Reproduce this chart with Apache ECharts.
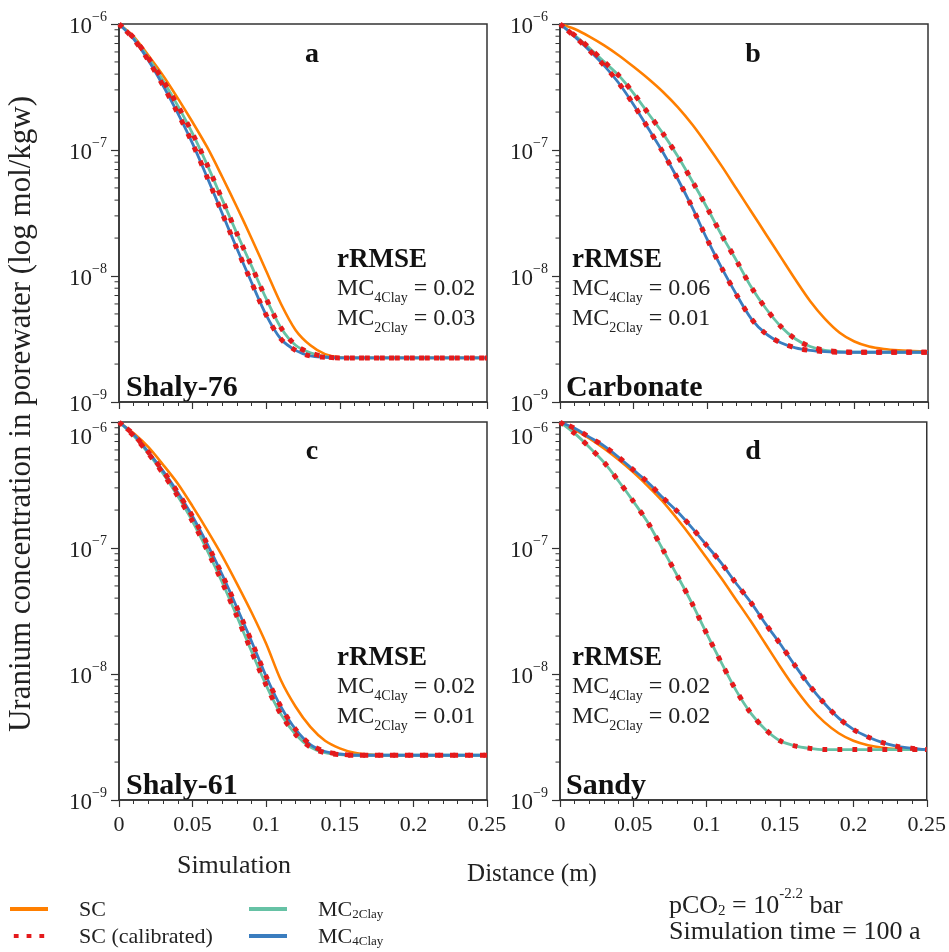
<!DOCTYPE html>
<html>
<head>
<meta charset="utf-8">
<script src="https://cdn.jsdelivr.net/npm/echarts@6/dist/echarts.min.js"></script>
<style>
html,body{margin:0;padding:0;background:#fff;}
#chart{width:949px;height:952px;}
</style>
</head>
<body>
<div id="chart"></div>
<script>
// ---------- data (log10 of U concentration, mol/kgw) ----------
const distance = [0,0.01,0.02,0.03,0.04,0.05,0.06,0.07,0.08,0.09,0.10,0.11,0.12,0.13,0.14,0.15,0.16,0.17,0.18,0.19,0.20,0.21,0.22,0.23,0.24,0.25];

// panel a – Shaly-76
const a_SC    = [-6.00,-6.10,-6.25,-6.41,-6.59,-6.78,-6.98,-7.21,-7.45,-7.70,-7.96,-8.22,-8.43,-8.55,-8.62,-8.645,-8.65,-8.65,-8.65,-8.65,-8.65,-8.65,-8.65,-8.65,-8.65,-8.65];
const a_MC2   = [-6.00,-6.11,-6.27,-6.45,-6.65,-6.87,-7.12,-7.39,-7.66,-7.92,-8.18,-8.41,-8.55,-8.61,-8.64,-8.65,-8.65,-8.65,-8.65,-8.65,-8.65,-8.65,-8.65,-8.65,-8.65,-8.65];
const a_MC4   = [-6.00,-6.12,-6.29,-6.49,-6.71,-6.95,-7.22,-7.50,-7.78,-8.05,-8.31,-8.50,-8.59,-8.635,-8.645,-8.65,-8.65,-8.65,-8.65,-8.65,-8.65,-8.65,-8.65,-8.65,-8.65,-8.65];
const a_SCcal2= [-6.00,-6.11,-6.27,-6.45,-6.65,-6.87,-7.12,-7.39,-7.66,-7.92,-8.18,-8.41,-8.55,-8.61,-8.64,-8.65,-8.65,-8.65,-8.65,-8.65,-8.65,-8.65,-8.65,-8.65,-8.65,-8.65];
const a_SCcal4= [-6.00,-6.12,-6.29,-6.49,-6.71,-6.95,-7.22,-7.50,-7.78,-8.05,-8.31,-8.50,-8.59,-8.635,-8.645,-8.65,-8.65,-8.65,-8.65,-8.65,-8.65,-8.65,-8.65,-8.65,-8.65,-8.65];

// panel b – Carbonate
const b_SC    = [-6.00,-6.04,-6.10,-6.17,-6.25,-6.34,-6.435,-6.54,-6.66,-6.80,-6.96,-7.13,-7.31,-7.49,-7.67,-7.85,-8.03,-8.20,-8.34,-8.45,-8.52,-8.56,-8.58,-8.59,-8.595,-8.60];
const b_MC2   = [-6.00,-6.09,-6.19,-6.30,-6.41,-6.55,-6.71,-6.87,-7.05,-7.25,-7.46,-7.68,-7.88,-8.09,-8.26,-8.40,-8.50,-8.56,-8.59,-8.60,-8.605,-8.605,-8.605,-8.605,-8.605,-8.605];
const b_MC4   = [-6.00,-6.10,-6.21,-6.33,-6.47,-6.64,-6.83,-7.02,-7.23,-7.46,-7.71,-7.94,-8.15,-8.34,-8.46,-8.53,-8.57,-8.59,-8.60,-8.605,-8.605,-8.605,-8.605,-8.605,-8.605,-8.605];
const b_SCcal2= [-6.00,-6.09,-6.19,-6.30,-6.41,-6.55,-6.71,-6.87,-7.05,-7.25,-7.46,-7.68,-7.88,-8.09,-8.26,-8.40,-8.50,-8.56,-8.59,-8.60,-8.605,-8.605,-8.605,-8.605,-8.605,-8.605];
const b_SCcal4= [-6.00,-6.10,-6.21,-6.33,-6.47,-6.64,-6.83,-7.02,-7.23,-7.46,-7.71,-7.94,-8.15,-8.34,-8.46,-8.53,-8.57,-8.59,-8.60,-8.605,-8.605,-8.605,-8.605,-8.605,-8.605,-8.605];

// panel c – Shaly-61
const c_SC    = [-6.00,-6.09,-6.20,-6.34,-6.49,-6.67,-6.86,-7.06,-7.28,-7.51,-7.76,-8.05,-8.26,-8.42,-8.53,-8.59,-8.625,-8.64,-8.645,-8.645,-8.645,-8.645,-8.645,-8.645,-8.645,-8.645];
const c_MC2   = [-6.00,-6.11,-6.25,-6.41,-6.59,-6.79,-7.02,-7.27,-7.54,-7.82,-8.09,-8.32,-8.48,-8.58,-8.625,-8.64,-8.645,-8.645,-8.645,-8.645,-8.645,-8.645,-8.645,-8.645,-8.645,-8.645];
const c_MC4   = [-6.00,-6.10,-6.24,-6.39,-6.56,-6.75,-6.97,-7.21,-7.47,-7.74,-8.02,-8.26,-8.44,-8.56,-8.615,-8.635,-8.645,-8.645,-8.645,-8.645,-8.645,-8.645,-8.645,-8.645,-8.645,-8.645];
const c_SCcal2= [-6.00,-6.11,-6.25,-6.41,-6.59,-6.79,-7.02,-7.27,-7.54,-7.82,-8.09,-8.32,-8.48,-8.58,-8.625,-8.64,-8.645,-8.645,-8.645,-8.645,-8.645,-8.645,-8.645,-8.645,-8.645,-8.645];
const c_SCcal4= [-6.00,-6.10,-6.24,-6.39,-6.56,-6.75,-6.97,-7.21,-7.47,-7.74,-8.02,-8.26,-8.44,-8.56,-8.615,-8.635,-8.645,-8.645,-8.645,-8.645,-8.645,-8.645,-8.645,-8.645,-8.645,-8.645];

// panel d – Sandy
const d_SC    = [-6.00,-6.06,-6.13,-6.21,-6.30,-6.40,-6.51,-6.63,-6.77,-6.92,-7.08,-7.24,-7.41,-7.58,-7.76,-7.94,-8.11,-8.26,-8.38,-8.47,-8.53,-8.565,-8.585,-8.595,-8.60,-8.60];
const d_MC2   = [-6.00,-6.09,-6.20,-6.32,-6.47,-6.63,-6.80,-7.01,-7.22,-7.44,-7.68,-7.91,-8.13,-8.31,-8.44,-8.53,-8.57,-8.59,-8.60,-8.60,-8.60,-8.60,-8.60,-8.60,-8.60,-8.60];
const d_MC4   = [-6.00,-6.05,-6.12,-6.19,-6.28,-6.38,-6.48,-6.60,-6.71,-6.84,-6.98,-7.12,-7.28,-7.43,-7.60,-7.76,-7.93,-8.09,-8.23,-8.35,-8.44,-8.50,-8.545,-8.575,-8.59,-8.60];
const d_SCcal2= [-6.00,-6.09,-6.20,-6.32,-6.47,-6.63,-6.80,-7.01,-7.22,-7.44,-7.68,-7.91,-8.13,-8.31,-8.44,-8.53,-8.57,-8.59,-8.60,-8.60,-8.60,-8.60,-8.60,-8.60,-8.60,-8.60];
const d_SCcal4= [-6.00,-6.05,-6.12,-6.19,-6.28,-6.38,-6.48,-6.60,-6.71,-6.84,-6.98,-7.12,-7.28,-7.43,-7.60,-7.76,-7.93,-8.09,-8.23,-8.35,-8.44,-8.50,-8.545,-8.575,-8.59,-8.60];

const panelLetters = ['a','b','c','d'];
const panelNames   = ['Shaly-76','Carbonate','Shaly-61','Sandy'];
const rmse4 = ['0.02','0.06','0.02','0.02'];
const rmse2 = ['0.03','0.01','0.01','0.02'];
const yMinorMant = [2,3,4,5,6,7,8,9];
const yDecades = [-9,-8,-7];

// ---------- styling ----------
const FONT = 'Liberation Serif';
const C_SC = '#ff7f00', C_CAL = '#e41a1c', C_MC2 = '#66c2a5', C_MC4 = '#3a7dbf', C_AX = '#333333';

const panels = [
  {SC:a_SC, MC2:a_MC2, MC4:a_MC4, cal2:a_SCcal2, cal4:a_SCcal4},
  {SC:b_SC, MC2:b_MC2, MC4:b_MC4, cal2:b_SCcal2, cal4:b_SCcal4},
  {SC:c_SC, MC2:c_MC2, MC4:c_MC4, cal2:c_SCcal2, cal4:c_SCcal4},
  {SC:d_SC, MC2:d_MC2, MC4:d_MC4, cal2:d_SCcal2, cal4:d_SCcal4}
];
const gridPos = [
  {left:119, top:24, width:368, height:378},
  {left:560, top:24, width:368, height:378},
  {left:119, top:422, width:368, height:378},
  {left:560, top:422, width:368, height:378}
];

const toPts = arr => distance.map((x,i)=>[x, Math.pow(10, arr[i])]);
const minorVals = [];
yDecades.forEach(e => yMinorMant.forEach(m => minorVals.push([0, m*Math.pow(10,e)])));

const grids=[], xAxes=[], yAxes=[], series=[];
gridPos.forEach((g,i)=>{
  grids.push(Object.assign({show:true, borderColor:C_AX, borderWidth:1.5, backgroundColor:'#fff'}, g));
  xAxes.push({
    type:'value', gridIndex:i, min:0, max:0.25, interval:0.05,
    axisLine:{show:true, onZero:false, lineStyle:{color:C_AX, width:1.5}},
    axisTick:{show:true, inside:false, length:7, lineStyle:{color:C_AX, width:1.2}},
    minorTick:{show:true, splitNumber:5, length:4, lineStyle:{color:C_AX, width:1}},
    splitLine:{show:false},
    axisLabel:{show:i>=2, margin:14, fontFamily:FONT, fontSize:22, color:'#222',
      formatter: v => String(+v.toFixed(2))}
  });
  const lower = i >= 2;
  yAxes.push({
    type:'log', logBase:10, gridIndex:i, min:1e-9, max:1e-6, splitNumber:3,
    axisLine:{show:true, lineStyle:{color:C_AX, width:1.5}},
    axisTick:{show:true, inside:false, length:8, lineStyle:{color:C_AX, width:1.2}},
    splitLine:{show:false},
    axisLabel:{margin:12, fontFamily:FONT, fontSize:22, color:'#222',
      formatter: v => {
        const e = Math.round(-Math.log10(v));
        const lbl = '{b|10}{s|\u2212' + e + '}';
        // top label of the lower panels sits just below the tick, as in the reference
        return (lower && e === 6) ? '{e| }\n' + lbl : lbl;
      },
      rich:{ b:{fontFamily:FONT, fontSize:23, color:'#222', lineHeight:28, verticalAlign:'bottom'},
             s:{fontFamily:FONT, fontSize:14, color:'#222', lineHeight:28, verticalAlign:'top'},
             e:{fontFamily:FONT, fontSize:10, lineHeight:26} } }
  });
  const p = panels[i];
  const base = {type:'line', xAxisIndex:i, yAxisIndex:i, showSymbol:false, symbol:'none', smooth:0.3, silent:true, animation:false};
  series.push(Object.assign({}, base, {name:'SC', data:toPts(p.SC), lineStyle:{color:C_SC, width:2.6}, itemStyle:{color:C_SC}, z:3}));
  series.push(Object.assign({}, base, {name:'MC2Clay', data:toPts(p.MC2), lineStyle:{color:C_MC2, width:2.8}, itemStyle:{color:C_MC2}, z:4}));
  series.push(Object.assign({}, base, {name:'MC4Clay', data:toPts(p.MC4), lineStyle:{color:C_MC4, width:2.8}, itemStyle:{color:C_MC4}, z:5}));
  series.push(Object.assign({}, base, {name:'SC (calibrated)', data:toPts(p.cal2), lineStyle:{color:C_CAL, width:5, type:[5,10], cap:'butt'}, itemStyle:{color:C_CAL}, z:6}));
  series.push(Object.assign({}, base, {name:'SC (calibrated)', data:toPts(p.cal4), lineStyle:{color:C_CAL, width:5, type:[5,10], cap:'butt', dashOffset:5}, itemStyle:{color:C_CAL}, z:6}));
  // minor log ticks drawn through the axis scale
  series.push({
    type:'custom', name:'minorTicks'+i, xAxisIndex:i, yAxisIndex:i, silent:true, clip:false, animation:false,
    data:minorVals, encode:{x:0, y:1},
    renderItem:(params, api)=>{
      const pt = api.coord([0, api.value(1)]);
      return {type:'line', shape:{x1:pt[0]-4.5, y1:pt[1], x2:pt[0], y2:pt[1]}, style:{stroke:C_AX, lineWidth:1}};
    }
  });
});

// ---------- texts ----------
const graphics = [];
const txt = (x,y,text,style,extra) => graphics.push(Object.assign({type:'text', x:x, y:y, silent:true,
  style:Object.assign({text:text, fontFamily:FONT, fill:'#222'}, style)}, extra||{}));

const letterPos = [[312,55],[753,55],[312,452],[753,452]];
const namePos   = [[126,388],[566,388],[126,786],[566,786]];
const rmsePos   = [[337,260],[572,260],[337,658],[572,658]];
panelLetters.forEach((l,i)=>{
  txt(letterPos[i][0], letterPos[i][1], l, {fontSize:28, fontWeight:'bold', align:'center', verticalAlign:'middle', fill:'#111'});
  txt(namePos[i][0], namePos[i][1], panelNames[i], {fontSize:30, fontWeight:'bold', align:'left', verticalAlign:'middle', fill:'#111'});
  txt(rmsePos[i][0], rmsePos[i][1], 'rRMSE', {fontSize:27, fontWeight:'bold', align:'left', verticalAlign:'middle', fill:'#111'});
  const rich = {n:{fontFamily:FONT, fontSize:24, fill:'#222', lineHeight:28, verticalAlign:'top'},
                s:{fontFamily:FONT, fontSize:14, fill:'#222', lineHeight:28, verticalAlign:'bottom'}};
  txt(rmsePos[i][0], rmsePos[i][1]+31, '{n|MC}{s|4Clay}{n| = '+rmse4[i]+'}', {rich:rich, align:'left', verticalAlign:'middle'});
  txt(rmsePos[i][0], rmsePos[i][1]+61, '{n|MC}{s|2Clay}{n| = '+rmse2[i]+'}', {rich:rich, align:'left', verticalAlign:'middle'});
});

txt(22, 414, 'Uranium concentration in porewater (log mol/kgw)', {fontSize:31, align:'center', verticalAlign:'middle'}, {rotation:Math.PI/2});
txt(234, 866, 'Simulation', {fontSize:26, align:'center', verticalAlign:'middle'});
txt(532, 874, 'Distance (m)', {fontSize:25, align:'center', verticalAlign:'middle'});
const richP = {n:{fontFamily:FONT, fontSize:26, fill:'#222', lineHeight:30, verticalAlign:'bottom'},
               sb:{fontFamily:FONT, fontSize:15, fill:'#222', lineHeight:30, verticalAlign:'bottom'},
               sp:{fontFamily:FONT, fontSize:15, fill:'#222', lineHeight:32, verticalAlign:'top'}};
txt(669, 903, '{n|pCO}{sb|2}{n| = 10}{sp|-2.2}{n| bar}', {rich:richP, align:'left', verticalAlign:'middle'});
txt(669, 930, '{n|Simulation time = 100 a}', {rich:richP, align:'left', verticalAlign:'middle'});

// ---------- legend ----------
const legRich = {p:{width:26}, t:{fontFamily:FONT, fontSize:22, color:'#222', lineHeight:24, verticalAlign:'bottom'},
                 s:{fontFamily:FONT, fontSize:13, color:'#222', lineHeight:24, verticalAlign:'bottom'}};
const legFmt = name => {
  if (name==='MC2Clay') return '{p| }{t|MC}{s|2Clay}';
  if (name==='MC4Clay') return '{p| }{t|MC}{s|4Clay}';
  return '{p| }{t|'+name+'}';
};
const dotIcon = 'path://M0,0h6v5h-6z M16,0h6v5h-6z M32,0h6v5h-6z';
const legendBase = {orient:'vertical', itemWidth:38, itemHeight:4, itemGap:4, padding:0, selectedMode:false,
  formatter:legFmt, textStyle:{rich:legRich, fontFamily:FONT, fontSize:22, color:'#222'}};

const option = {
  animation:false,
  backgroundColor:'#fff',
  grid:grids, xAxis:xAxes, yAxis:yAxes, series:series,
  legend:[
    Object.assign({}, legendBase, {left:10, top:898, height:56,
      data:[{name:'SC', icon:'rect'}, {name:'SC (calibrated)', icon:dotIcon}]}),
    Object.assign({}, legendBase, {left:249, top:898, height:56,
      data:[{name:'MC2Clay', icon:'rect'}, {name:'MC4Clay', icon:'rect'}]})
  ],
  graphic:graphics
};
const chart = echarts.init(document.getElementById('chart'), null, {renderer:'canvas'});
chart.setOption(option);
</script>
</body>
</html>
